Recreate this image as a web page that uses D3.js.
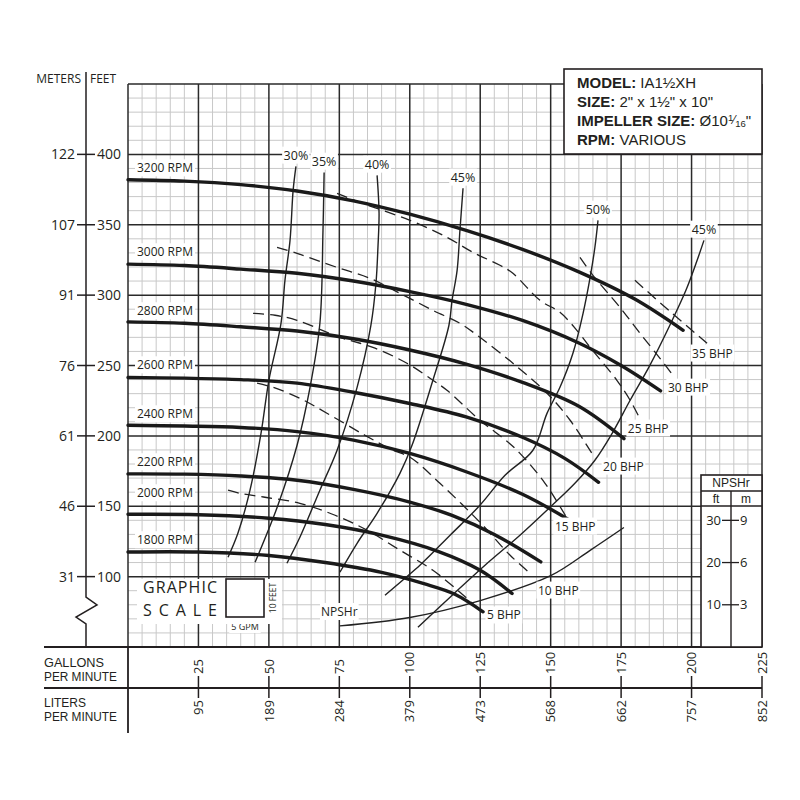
<!DOCTYPE html>
<html><head><meta charset="utf-8">
<script src="https://cdn.jsdelivr.net/npm/d3@7"></script>
<style>
html,body{margin:0;padding:0;background:#fff;}
svg text{font-family:"Open Sans","Noto Sans",sans-serif;fill:#231f20;}
svg text.tight{font-family:"Liberation Sans",Arial,sans-serif;}
</style></head><body>
<svg id="c" width="800" height="800"></svg>
<script>
// ---------- DATA (flow in GPM, head in FEET) ----------
const rpmNames = ["3200 RPM","3000 RPM","2800 RPM","2600 RPM","2400 RPM","2200 RPM","2000 RPM","1800 RPM"];
const head3200 = [[0,382],[20,381],[40,378.5],[60,374],[80,367],[100,357.5],[120,346],[140,332.5],[160,316.5],[180,297],[197,275]];
const head3000 = [[0,322],[20,321],[40,318.5],[60,315.5],[80,310],[100,302.5],[120,293.5],[140,282],[160,266],[175,250],[189,232]];
const head2800 = [[0,281],[20,280],[40,277.5],[60,274.5],[80,269],[100,261],[120,251],[140,238],[160,221],[176,198]];
const head2600 = [[0,241.5],[20,241],[40,240],[60,237.5],[80,231],[100,223],[120,213.5],[140,199],[155,184],[167,167]];
const head2400 = [[0,207.5],[20,207],[40,206],[60,203],[80,197],[100,187.5],[120,174.5],[140,158.5],[156,141]];
const head2200 = [[0,173],[20,172.8],[40,171.5],[60,168.5],[80,162],[100,153],[115,143.5],[130,130],[146.5,110.5]];
const head2000 = [[0,144.3],[25,144],[50,141.5],[70,137],[90,129.5],[110,118],[125,104.5],[136.3,88]];
const head1800 = [[0,117.5],[25,117.5],[50,115],[70,110],[90,103],[105,95],[116,87.5],[126,75]];
const rpmLabelFt = [387.2,327.6,285.7,247.3,212.5,178.4,156.4,123];

const effNames = ["30%","35%","40%","45%","50%","45%"];
const eff30 = [[59.6,391.5],[58.6,374.4],[57.5,338.9],[55.7,310.5],[54.3,280],[50,239.5],[47.2,201.8],[43.3,161.4],[39,130.8],[35.5,113.8]];
const eff35 = [[69.6,387.2],[69.2,346],[68.1,280],[64.6,234.5],[60,193.3],[53.2,150.7],[45.1,110.2]];
const eff40 = [[88.4,385.1],[89.1,358.1],[88.7,333.9],[88,308.4],[86.2,278.5],[81.3,234.5],[74.2,189.8],[68.1,161.4],[61,128],[56.4,109.5]];
const eff45a = [[118.9,375.9],[117.8,346],[116.8,317.6],[115,296.3],[113.9,278.6],[108.2,239.5],[100.8,193.3],[96.5,173.4],[88.4,145],[81.3,123.7],[75.2,103.1]];
const eff50 = [[166.8,353.1],[165.7,334],[164,312.6],[161.5,287.1],[157.9,258.7],[153.3,234.5],[148.7,216],[143.7,189.8],[133.8,172],[124.9,150.7],[114.3,129.4],[103.6,108.1],[91.2,86.8]];
const eff45b = [[204.4,338.9],[201.6,322.6],[198,303.4],[192.3,278.6],[185.2,250.1],[178.2,225.3],[171.4,200.4],[165.7,182.7],[158.6,166.3],[149.8,149.3],[139.1,129.4],[126.7,108.1],[114.3,85.4],[102.9,64.1]];

const bhpNames = ["5 BHP","10 BHP","15 BHP","20 BHP","25 BHP","30 BHP","35 BHP"];
const bhp5  = [[35.5,161.4],[39.7,159.2],[48.6,156.4],[61,152.1],[73.5,143.6],[84.8,133],[96.5,118.8],[108.2,104.5],[117.8,88.9],[124.9,76.1]];
const bhp10 = [[45.8,237.4],[51.5,234.5],[61,226.7],[70.6,216.1],[84.1,200.4],[94,189.8],[100.1,184.8],[110.7,166.3],[124.9,138.6],[135.6,115.2],[142.7,102.4]];
const bhp15 = [[44.4,287.1],[52.2,285.7],[60,282.1],[75.2,270],[86.9,262.9],[99,251.6],[108.2,239.5],[113.2,232.4],[124.9,211.1],[134.5,196.2],[139.1,187.6],[148,166.3],[155.8,141.5]];
const bhp20 = [[52.9,334],[60,329.7],[74.2,319.7],[85.9,311.9],[96.5,301.3],[108.2,289.2],[117.8,280],[124.9,270],[136.6,251.6],[148.7,230.3],[156.9,211.1],[165.7,184.1]];
const bhp25 = [[74.2,372.3],[82.3,365.9],[100.1,353.1],[113.2,341.1],[122.4,330.4],[132,321.2],[136.6,315.5],[146.2,296.3],[153.3,287.8],[159.3,275],[164,262.9],[173.5,239.5],[178.2,225.3],[181.2,214]];
const bhp30 = [[160.4,326.8],[165,314.1],[174.6,291.3],[181.7,272.9],[188.8,255.1],[193.4,243]];
const bhp35 = [[179.9,310.5],[192.7,287.8],[205.5,265.8]];
const bhpLabelAt = [[127.4,72.6],[145.5,90.3],[151.5,135.8],[168.6,178.4],[177.4,205.4],[191.6,234.5],[200.2,258.7]];

const npshr = [[75.2,5],[100,7],[125,11],[150,16.9],[164,22.9],[176,28.3]];

const feetTicks = [100,150,200,250,300,350,400];
const meterTicks = ["31","46","61","76","91","107","122"];
const gpmTicks = [25,50,75,100,125,150,175,200,225];
const lpmTicks = ["95","189","284","379","473","568","662","757","852"];
const npshFtTicks = [10,20,30];
const npshMTicks = ["3","6","9"];

// ---------- SCALES ----------
const svg = d3.select("#c");
const x = d3.scaleLinear().domain([0,225]).range([128,762]);
const y = d3.scaleLinear().domain([50,450]).range([647,84]);
const yN = d3.scaleLinear().domain([0,30]).range([y(50), y(140)]);
const ink = "#231f20";

svg.append("rect").attr("width",800).attr("height",800).attr("fill","#fff");

// ---------- GRID ----------
const grid = svg.append("g");
const minorX = d3.range(5,225,5).filter(v=>v%25!==0);
const minorY = d3.range(60,450,10).filter(v=>v%50!==0);
grid.selectAll(".mx").data(minorX).join("line")
  .attr("x1",d=>x(d)).attr("x2",d=>x(d)).attr("y1",y(50)).attr("y2",y(450))
  .attr("stroke","#c8c8c8").attr("stroke-width",1);
grid.selectAll(".my").data(minorY).join("line")
  .attr("y1",d=>y(d)).attr("y2",d=>y(d)).attr("x1",x(0)).attr("x2",x(225))
  .attr("stroke","#c8c8c8").attr("stroke-width",1);
grid.selectAll(".Mx").data(d3.range(0,226,25)).join("line")
  .attr("x1",d=>x(d)).attr("x2",d=>x(d)).attr("y1",y(50)).attr("y2",y(450))
  .attr("stroke","#2a2a2a").attr("stroke-width",1.5);
grid.selectAll(".My").data(d3.range(100,451,50)).join("line")
  .attr("y1",d=>y(d)).attr("y2",d=>y(d)).attr("x1",x(0)).attr("x2",x(225))
  .attr("stroke","#2a2a2a").attr("stroke-width",1.5);

// ---------- LEFT AXIS ----------
const ax = svg.append("g");
const axX = 86;
ax.append("path").attr("fill","none").attr("stroke",ink).attr("stroke-width",1.5)
  .attr("d",`M${axX},72 L${axX},597 L${axX+11},605 L${axX-10},617 L${axX},624 L${axX},${y(50)}`);
ax.selectAll(".yt").data(feetTicks).join("line")
  .attr("x1",77).attr("x2",95).attr("y1",d=>y(d)).attr("y2",d=>y(d))
  .attr("stroke",ink).attr("stroke-width",1.5);
ax.selectAll(".ft").data(feetTicks).join("text")
  .attr("x",97).attr("y",d=>y(d)+5).attr("font-size",14).text(d=>d);
ax.selectAll(".mt").data(meterTicks).join("text")
  .attr("x",75).attr("y",(d,i)=>y(feetTicks[i])+5).attr("text-anchor","end").attr("font-size",14).text(d=>d);
ax.append("text").attr("x",81).attr("y",83).attr("text-anchor","end").attr("font-size",12).text("METERS");
ax.append("text").attr("x",90).attr("y",83).attr("font-size",12).text("FEET");

// ---------- BOTTOM AXES ----------
const bx = svg.append("g");
bx.append("line").attr("x1",44).attr("x2",x(225)).attr("y1",y(50)).attr("y2",y(50)).attr("stroke",ink).attr("stroke-width",1.8);
bx.append("line").attr("x1",44).attr("x2",x(225)).attr("y1",688).attr("y2",688).attr("stroke",ink).attr("stroke-width",1.8);
bx.append("line").attr("x1",x(0)).attr("x2",x(0)).attr("y1",y(50)).attr("y2",733).attr("stroke",ink).attr("stroke-width",1.8);
bx.selectAll(".gt").data(gpmTicks).join("line")
  .attr("x1",d=>x(d)).attr("x2",d=>x(d)).attr("y1",676).attr("y2",698).attr("stroke",ink).attr("stroke-width",1.5);
bx.selectAll(".gl").data(gpmTicks).join("text")
  .attr("transform",d=>`translate(${x(d)},674) rotate(-90)`).attr("dy","0.36em")
  .attr("font-size",13).text(d=>d);
bx.selectAll(".ll").data(lpmTicks).join("text")
  .attr("transform",(d,i)=>`translate(${x(gpmTicks[i])},700) rotate(-90)`).attr("dy","0.36em")
  .attr("text-anchor","end").attr("font-size",13).text(d=>d);
[["GALLONS",667],["PER MINUTE",681],["LITERS",707],["PER MINUTE",721]].forEach(([t,yy])=>{
  bx.append("text").attr("class","tight").attr("x",44).attr("y",yy).attr("font-size",12)
    .attr("textLength",t.length>7?73:(t==="GALLONS"?60:42)).attr("lengthAdjust","spacingAndGlyphs").text(t);
});

// ---------- CURVES ----------
const line = d3.line().x(d=>x(d[0])).y(d=>y(d[1])).curve(d3.curveCatmullRom.alpha(0.5));
const lineN = d3.line().x(d=>x(d[0])).y(d=>yN(d[1])).curve(d3.curveCatmullRom.alpha(0.5));
const curves = svg.append("g");
const effSets = [eff30,eff35,eff40,eff45a,eff50,eff45b];
const bhpSets = [bhp5,bhp10,bhp15,bhp20,bhp25,bhp30,bhp35];
const headSets = [head3200,head3000,head2800,head2600,head2400,head2200,head2000,head1800];

curves.selectAll(".bhp").data(bhpSets).join("path")
  .attr("d",line).attr("fill","none").attr("stroke","#222").attr("stroke-width",1.3)
  .attr("stroke-dasharray","11,6");
curves.selectAll(".eff").data(effSets).join("path")
  .attr("d",line).attr("fill","none").attr("stroke","#222").attr("stroke-width",1.4);
curves.append("path").attr("d",lineN(npshr)).attr("fill","none").attr("stroke","#222").attr("stroke-width",1.4);
curves.selectAll(".head").data(headSets).join("path")
  .attr("d",line).attr("fill","none").attr("stroke","#1a1a1a").attr("stroke-width",3.4)
  .attr("stroke-linecap","round");

// ---------- LABELS ----------
const lab = svg.append("g");
function label(t, px, py, anchor, size, pad){
  const g = lab.append("g");
  const r = g.append("rect").attr("fill","#fff");
  const tx = g.append("text").attr("x",px).attr("y",py).attr("text-anchor",anchor).attr("font-size",size).text(t);
  const b = tx.node().getBBox();
  r.attr("x",b.x-pad).attr("y",b.y).attr("width",b.width+2*pad).attr("height",b.height);
  return tx;
}
rpmNames.forEach((n,i)=>label(n, 137, y(rpmLabelFt[i]), "start", 12, 2));
effNames.forEach((n,i)=>{ const p=effSets[i][0]; label(n, x(p[0]), y(p[1])-11+4.3, "middle", 12.5, 1.5); });
bhpNames.forEach((n,i)=>{ const p=bhpLabelAt[i]; label(n, x(p[0]), y(p[1])+4.3, "start", 12, 1.5); });
label("NPSHr", 321, 616, "start", 12, 1);

// ---------- MODEL BOX ----------
const mb = svg.append("g");
mb.append("rect").attr("x",564).attr("y",69).attr("width",198).attr("height",85)
  .attr("fill","#fff").attr("stroke",ink).attr("stroke-width",1.6);
function infoLine(yy, bold, parts){
  const t = mb.append("text").attr("class","tight").attr("x",577).attr("y",yy).attr("font-size",15);
  t.append("tspan").attr("font-weight","bold").text(bold);
  parts(t);
}
infoLine(88,"MODEL:",t=>t.append("tspan").text(" IA1½XH"));
infoLine(107,"SIZE:",t=>t.append("tspan").text(" 2\" x 1½\" x 10\""));
infoLine(126,"IMPELLER SIZE:",t=>{
  t.append("tspan").text(" Ø10");
  t.append("tspan").attr("font-size",9.5).attr("dy",-5).text("1");
  t.append("tspan").attr("font-size",12).attr("dy",3).text("⁄");
  t.append("tspan").attr("font-size",9.5).attr("dy",3).text("16");
  t.append("tspan").attr("dy",-1).text("\"");
});
infoLine(145,"RPM:",t=>t.append("tspan").text(" VARIOUS"));

// ---------- NPSHr SCALE BOX ----------
const nb = svg.append("g");
nb.append("rect").attr("x",701).attr("y",475).attr("width",x(225)-701).attr("height",y(50)-475)
  .attr("fill","#fff").attr("stroke",ink).attr("stroke-width",1.6);
nb.append("line").attr("x1",701).attr("x2",x(225)).attr("y1",491).attr("y2",491).attr("stroke",ink).attr("stroke-width",1.4);
nb.append("line").attr("x1",701).attr("x2",x(225)).attr("y1",506).attr("y2",506).attr("stroke",ink).attr("stroke-width",1.4);
nb.append("line").attr("x1",731).attr("x2",731).attr("y1",491).attr("y2",y(50)).attr("stroke",ink).attr("stroke-width",1.4);
nb.append("text").attr("class","tight").attr("x",731).attr("y",487).attr("text-anchor","middle").attr("font-size",12).text("NPSHr");
nb.append("text").attr("class","tight").attr("x",716).attr("y",503).attr("text-anchor","middle").attr("font-size",12).text("ft");
nb.append("text").attr("class","tight").attr("x",746).attr("y",503).attr("text-anchor","middle").attr("font-size",12).text("m");
nb.selectAll(".nt").data(npshFtTicks).join("line")
  .attr("x1",722).attr("x2",739).attr("y1",d=>yN(d)).attr("y2",d=>yN(d)).attr("stroke",ink).attr("stroke-width",1.3);
nb.selectAll(".nf").data(npshFtTicks).join("text")
  .attr("x",721).attr("y",d=>yN(d)+4.5).attr("text-anchor","end").attr("font-size",13).text(d=>d);
nb.selectAll(".nm").data(npshMTicks).join("text")
  .attr("x",740).attr("y",(d,i)=>yN(npshFtTicks[i])+4.5).attr("font-size",13).text(d=>d);

// ---------- GRAPHIC SCALE ----------
const gs = svg.append("g");
gs.append("rect").attr("x",137).attr("y",579).attr("width",145).attr("height",45).attr("fill","#fff");
gs.append("text").attr("x",143).attr("y",593).attr("font-size",16).attr("textLength",74).attr("lengthAdjust","spacing").text("GRAPHIC");
gs.append("text").attr("x",143).attr("y",616).attr("font-size",16).attr("textLength",74).attr("lengthAdjust","spacing").text("SCALE");
gs.append("rect").attr("x",226).attr("y",579).attr("width",38).attr("height",38).attr("fill","#fff").attr("stroke",ink).attr("stroke-width",1.6);
gs.append("text").attr("transform","translate(276,598) rotate(-90)").attr("text-anchor","middle").attr("font-size",8.5).text("10 FEET");
label("5 GPM", 245, 630, "middle", 9, 2);
</script>
</body></html>
